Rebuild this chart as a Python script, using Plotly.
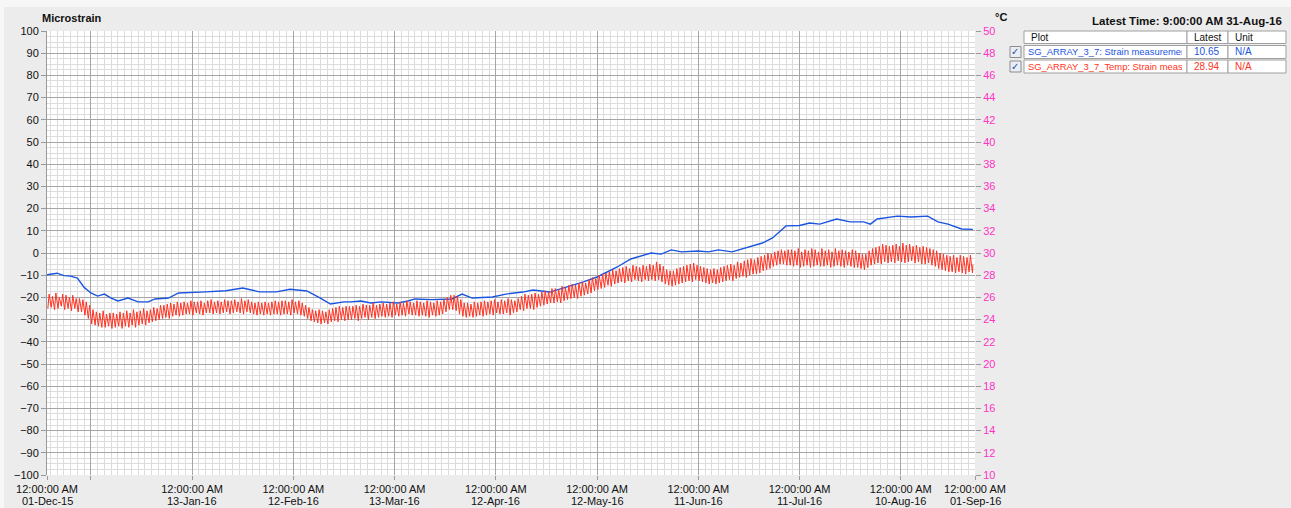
import pandas as pd
import plotly.graph_objects as go

# ---------------- data ----------------
strain_dates = [
    "2015-12-01", "2015-12-04", "2015-12-06", "2015-12-08", "2015-12-10", "2015-12-12",
    "2015-12-14", "2015-12-16", "2015-12-18", "2015-12-20", "2015-12-22", "2015-12-25",
    "2015-12-28", "2015-12-31", "2016-01-02", "2016-01-06", "2016-01-09", "2016-01-13",
    "2016-01-17", "2016-01-23", "2016-01-28", "2016-02-02", "2016-02-07", "2016-02-11",
    "2016-02-16", "2016-02-20", "2016-02-23", "2016-02-27", "2016-02-29", "2016-03-03",
    "2016-03-06", "2016-03-09", "2016-03-14", "2016-03-17", "2016-03-19", "2016-03-24",
    "2016-03-30", "2016-04-02", "2016-04-05", "2016-04-11", "2016-04-15", "2016-04-20",
    "2016-04-23", "2016-04-28", "2016-05-02", "2016-05-05", "2016-05-08", "2016-05-12",
    "2016-05-18", "2016-05-22", "2016-05-28", "2016-05-31", "2016-06-03", "2016-06-06",
    "2016-06-11", "2016-06-14", "2016-06-17", "2016-06-21", "2016-06-26", "2016-06-30",
    "2016-07-03", "2016-07-07", "2016-07-11", "2016-07-14", "2016-07-17", "2016-07-22",
    "2016-07-26", "2016-07-30", "2016-08-01", "2016-08-03", "2016-08-09", "2016-08-13",
    "2016-08-18", "2016-08-21", "2016-08-24", "2016-08-28", "2016-08-31T09:00",
]
strain_values = [
    -9.8, -9.1, -10.2, -10.4, -11.3, -15.5,
    -18.0, -19.4, -18.5, -20.3, -21.6, -20.3,
    -22.0, -22.0, -20.7, -20.3, -18.0, -17.6,
    -17.5, -17.0, -15.8, -17.5, -17.5, -16.3,
    -17.1, -20.3, -23.0, -22.0, -22.0, -21.6,
    -22.5, -22.0, -22.5, -21.6, -20.7, -21.0,
    -20.7, -18.5, -20.3, -19.8, -18.5, -17.6,
    -16.7, -17.6, -15.8, -14.4, -13.0, -10.8,
    -6.3, -2.7, 0.0, -0.5, 1.4, 0.5,
    0.9, 0.5, 1.4, 0.5, 2.7, 4.5,
    6.8, 12.2, 12.4, 13.5, 13.0, 15.3,
    14.0, 14.0, 13.0, 15.3, 16.6, 16.2,
    16.6, 14.0, 13.0, 10.8, 10.65,
]

temp_start = "2015-12-01"
# daily minimum (early morning) and maximum (afternoon) temperature, degC
temp_daily_low = [
    25.0, 25.1, 24.9, 25.0, 25.2, 24.9, 25.0, 24.8, 25.0, 24.7,
    24.7, 24.4, 24.1, 23.6, 23.5, 23.4, 23.3, 23.3, 23.4, 23.2,
    23.3, 23.4, 23.2, 23.4, 23.3, 23.5, 23.3, 23.5, 23.6, 23.5,
    23.7, 23.8, 23.9, 24.0, 24.1, 24.2, 24.1, 24.3, 24.4, 24.3,
    24.4, 24.5, 24.5, 24.4, 24.6, 24.5, 24.4, 24.6, 24.6, 24.5,
    24.6, 24.5, 24.6, 24.7, 24.5, 24.6, 24.7, 24.6, 24.5, 24.7,
    24.6, 24.5, 24.4, 24.5, 24.4, 24.5, 24.4, 24.5, 24.5, 24.4,
    24.5, 24.5, 24.4, 24.6, 24.5, 24.4, 24.3, 24.1, 23.9, 23.8,
    23.7, 23.6, 23.7, 23.6, 23.8, 23.9, 23.8, 24.0, 23.9, 24.0,
    24.0, 24.1, 23.9, 24.1, 24.2, 24.0, 24.2, 24.1, 24.2, 24.3,
    24.2, 24.3, 24.2, 24.4, 24.3, 24.4, 24.3, 24.5, 24.4, 24.4,
    24.3, 24.4, 24.3, 24.2, 24.4, 24.3, 24.4, 24.5, 24.7, 24.9,
    24.9, 24.8, 24.5, 24.3, 24.2, 24.3, 24.2, 24.3, 24.4, 24.3,
    24.4, 24.5, 24.4, 24.6, 24.5, 24.5, 24.6, 24.4, 24.6, 24.7,
    24.9, 24.8, 25.0, 25.0, 24.9, 25.1, 25.2, 25.3, 25.4, 25.5,
    25.5, 25.6, 25.5, 25.7, 25.8, 25.9, 26.0, 25.9, 26.1, 26.2,
    26.3, 26.4, 26.6, 26.7, 26.8, 26.9, 27.1, 27.0, 27.2, 27.3,
    27.4, 27.3, 27.5, 27.4, 27.6, 27.5, 27.4, 27.6, 27.5, 27.6,
    27.5, 27.6, 27.4, 27.2, 27.1, 27.0, 27.1, 27.2, 27.3, 27.4,
    27.5, 27.4, 27.6, 27.5, 27.4, 27.3, 27.2, 27.3, 27.2, 27.3,
    27.4, 27.5, 27.6, 27.5, 27.7, 27.8, 27.9, 27.8, 28.0, 28.1,
    28.1, 28.2, 28.4, 28.5, 28.6, 28.8, 28.9, 29.0, 29.0, 28.9,
    28.9, 28.8, 28.9, 28.7, 28.8, 28.9, 28.7, 28.8, 28.9, 28.8,
    28.8, 28.9, 28.7, 28.8, 28.9, 28.8, 28.7, 28.9, 28.8, 28.7,
    28.7, 28.6, 28.5, 28.7, 28.9, 29.0, 29.1, 29.0, 29.2, 29.1,
    29.2, 29.1, 29.3, 29.2, 29.1, 29.2, 29.3, 29.1, 29.2, 29.0,
    29.0, 29.1, 28.9, 28.8, 28.6, 28.5, 28.4, 28.3, 28.3, 28.2,
    28.3, 28.2, 28.1, 28.3, 28.2,
]
temp_daily_high = [
    26.3, 26.1, 26.4, 26.0, 26.3, 26.2, 26.0, 26.2, 25.9, 25.9,
    25.8, 25.6, 25.3, 24.9, 24.7, 24.6, 24.8, 24.5, 24.6, 24.6,
    24.5, 24.7, 24.6, 24.8, 24.6, 24.9, 24.7, 24.8, 25.0, 24.8,
    24.9, 25.1, 25.0, 25.3, 25.3, 25.4, 25.5, 25.4, 25.6, 25.5,
    25.6, 25.5, 25.7, 25.6, 25.6, 25.7, 25.5, 25.7, 25.8, 25.6,
    25.7, 25.6, 25.8, 25.7, 25.7, 25.8, 25.6, 25.9, 25.7, 25.8,
    25.6, 25.5, 25.6, 25.5, 25.6, 25.5, 25.6, 25.7, 25.6, 25.7,
    25.7, 25.6, 25.8, 25.6, 25.7, 25.5, 25.3, 25.1, 24.9, 24.8,
    24.9, 24.8, 24.7, 24.9, 25.0, 25.1, 25.2, 25.1, 25.2, 25.2,
    25.2, 25.3, 25.2, 25.4, 25.3, 25.3, 25.5, 25.3, 25.4, 25.5,
    25.4, 25.5, 25.6, 25.4, 25.6, 25.5, 25.7, 25.6, 25.5, 25.7,
    25.6, 25.5, 25.7, 25.6, 25.5, 25.7, 25.6, 25.8, 26.0, 26.2,
    26.2, 26.1, 25.8, 25.5, 25.5, 25.4, 25.6, 25.5, 25.6, 25.7,
    25.6, 25.7, 25.8, 25.6, 25.8, 25.7, 25.9, 25.8, 25.7, 25.9,
    26.1, 26.3, 26.2, 26.3, 26.4, 26.3, 26.5, 26.6, 26.5, 26.8,
    26.8, 26.7, 27.0, 26.9, 27.1, 27.2, 27.1, 27.3, 27.4, 27.3,
    27.6, 27.8, 27.7, 28.0, 28.1, 28.2, 28.3, 28.5, 28.4, 28.6,
    28.7, 28.8, 28.6, 28.9, 28.8, 28.7, 28.9, 28.8, 29.0, 28.9,
    29.2, 29.0, 28.8, 28.5, 28.4, 28.4, 28.6, 28.7, 28.8, 28.9,
    29.0, 29.1, 28.9, 28.8, 28.7, 28.6, 28.5, 28.6, 28.5, 28.7,
    28.8, 28.9, 29.0, 28.9, 29.2, 29.1, 29.3, 29.4, 29.5, 29.4,
    29.6, 29.7, 29.8, 30.0, 29.9, 30.1, 30.2, 30.3, 30.2, 30.3,
    30.3, 30.2, 30.4, 30.1, 30.3, 30.2, 30.4, 30.3, 30.1, 30.4,
    30.2, 30.3, 30.1, 30.4, 30.2, 30.3, 30.2, 30.1, 30.3, 30.2,
    30.0, 29.9, 29.9, 30.2, 30.4, 30.5, 30.6, 30.8, 30.7, 30.6,
    30.7, 30.8, 30.6, 30.9, 30.7, 30.8, 30.6, 30.7, 30.5, 30.6,
    30.5, 30.4, 30.3, 30.2, 30.0, 29.9, 29.8, 29.7, 29.8, 29.6,
    29.8, 29.7, 29.6, 29.8,
]
temp_low_hour = 6
temp_high_hour = 15
temp_latest_time = "2016-08-31T09:00"
temp_latest = 28.94
strain_latest = 10.65

x_tick_dates = ["2015-12-01", "2015-12-14", "2016-01-13", "2016-02-12", "2016-03-13",
                "2016-04-12", "2016-05-12", "2016-06-11", "2016-07-11", "2016-08-10",
                "2016-09-01"]
x_tick_time = ["12:00:00 AM", "", "12:00:00 AM", "12:00:00 AM", "12:00:00 AM",
               "12:00:00 AM", "12:00:00 AM", "12:00:00 AM", "12:00:00 AM",
               "12:00:00 AM", "12:00:00 AM"]
x_tick_day = ["01-Dec-15", "", "13-Jan-16", "12-Feb-16", "13-Mar-16", "12-Apr-16",
              "12-May-16", "11-Jun-16", "11-Jul-16", "10-Aug-16", "01-Sep-16"]
left_ticks = list(range(-100, 101, 10))
right_ticks = list(range(10, 51, 2))

series_names = ["SG_ARRAY_3_7: Strain measuremer", "SG_ARRAY_3_7_Temp: Strain meas"]
latest_text = "Latest Time: 9:00:00 AM 31-Aug-16"

# ---------------- build temperature trace ----------------
days = pd.date_range(temp_start, periods=len(temp_daily_low), freq="D")
tx, ty = [], []
for i, d in enumerate(days):
    tx.append(d + pd.Timedelta(hours=temp_low_hour))
    ty.append(temp_daily_low[i])
    if i < len(temp_daily_high):
        tx.append(d + pd.Timedelta(hours=temp_high_hour))
        ty.append(temp_daily_high[i])
tx.append(pd.Timestamp(temp_latest_time))
ty.append(temp_latest)

BLUE = "#1a55e0"
RED = "#ff3322"
PINK = "#ff33c4"
MAJ = "#a6a6a6"
MIN = "#dcdcdc"
FONT = "Liberation Sans, Arial, sans-serif"

fig = go.Figure()
fig.add_trace(go.Scatter(x=tx, y=ty, mode="lines", yaxis="y2",
                         line=dict(color=RED, width=1), showlegend=False))
fig.add_trace(go.Scatter(x=pd.to_datetime(strain_dates, format="ISO8601"), y=strain_values,
                         mode="lines", line=dict(color=BLUE, width=1.4), showlegend=False))

W, H = 1291, 508
# plot-area edges in window pixels
L, R, T, B = 47, 975, 31, 475


def px(x):
    return (x - L) / (R - L)


def py(y):
    return (B - y) / (B - T)


shapes = []
annotations = []

# light window edge on the left / top
shapes.append(dict(type="rect", xref="paper", yref="paper", x0=px(-2), x1=px(4),
                   y0=py(H + 2), y1=py(-2), fillcolor="#f7f7f7", line_width=0))
shapes.append(dict(type="rect", xref="paper", yref="paper", x0=px(-2), x1=px(W + 2),
                   y0=py(7), y1=py(-2), fillcolor="#f7f7f7", line_width=0))

# titles
annotations.append(dict(text="<b>Microstrain</b>", xref="paper", yref="paper", x=px(40), y=py(18),
                        xanchor="left", yanchor="middle", showarrow=False,
                        font=dict(size=11, color="#111", family=FONT)))
annotations.append(dict(text="<b>°C</b>", xref="paper", yref="paper", x=px(993), y=py(17),
                        xanchor="left", yanchor="middle", showarrow=False,
                        font=dict(size=11, color="#111", family=FONT)))
annotations.append(dict(text="<b>" + latest_text + "</b>", xref="paper", yref="paper",
                        x=px(1284), y=py(21), xanchor="right", yanchor="middle", showarrow=False,
                        font=dict(size=11.5, color="#111", family=FONT)))

# second line of the date tick labels
for d, txt in zip(x_tick_dates, x_tick_day):
    if txt:
        annotations.append(dict(text=txt, xref="x", yref="paper", x=d, y=py(501),
                                xanchor="center", yanchor="middle", showarrow=False,
                                borderpad=0,
                                font=dict(size=11, color="#111", family=FONT)))

# table
cols = [(1024, 1187), (1187, 1228), (1228, 1286)]
rows = [(31, 43.5), (45.5, 58.5), (60, 73)]
for (ry0, ry1) in rows:
    for (cx0, cx1) in cols:
        shapes.append(dict(type="rect", xref="paper", yref="paper", x0=px(cx0), x1=px(cx1),
                           y0=py(ry1), y1=py(ry0), fillcolor="white",
                           line=dict(color="#a0a0a0", width=1)))
header = ["Plot", "Latest", "Unit"]
for (cx0, cx1), h in zip(cols, header):
    annotations.append(dict(text=h, xref="paper", yref="paper", x=px(cx0 + 5), y=py(37.5),
                            xanchor="left", yanchor="middle", showarrow=False,
                            font=dict(size=10, color="#111", family=FONT)))
row_colors = [BLUE, RED]
row_latest = [f"{strain_latest:.2f}", f"{temp_latest:.2f}"]
for k, (ry0, ry1) in enumerate(rows[1:]):
    ym = (ry0 + ry1) / 2
    # checkbox
    shapes.append(dict(type="rect", xref="paper", yref="paper", x0=px(1010), x1=px(1021),
                       y0=py(ym + 5.5), y1=py(ym - 5.5), fillcolor="#e9eef6",
                       line=dict(color="#8c8c8c", width=1)))
    annotations.append(dict(text="✓", xref="paper", yref="paper", x=px(1015.5), y=py(ym),
                            xanchor="center", yanchor="middle", showarrow=False,
                            font=dict(size=10, color="#2b4f9e", family="DejaVu Sans")))
    annotations.append(dict(text=series_names[k], xref="paper", yref="paper", x=px(1027),
                            y=py(ym), xanchor="left", yanchor="middle", showarrow=False,
                            width=154, align="left", borderpad=0,
                            font=dict(size=9.4, color=row_colors[k], family=FONT)))
    annotations.append(dict(text=row_latest[k], xref="paper", yref="paper", x=px(1192),
                            y=py(ym), xanchor="left", yanchor="middle", showarrow=False,
                            font=dict(size=10, color=row_colors[k], family=FONT)))
    annotations.append(dict(text="N/A", xref="paper", yref="paper", x=px(1233),
                            y=py(ym), xanchor="left", yanchor="middle", showarrow=False,
                            font=dict(size=10, color=row_colors[k], family=FONT)))

fig.update_layout(
    width=W, height=H,
    margin=dict(l=L, r=W - R, t=T, b=H - B, pad=0),
    paper_bgcolor="#ececec", plot_bgcolor="white",
    font=dict(family=FONT, size=11, color="#111"),
    showlegend=False,
    shapes=shapes, annotations=annotations,
    xaxis=dict(
        type="date", range=["2015-12-01", "2016-09-01"], automargin=False,
        tickmode="array", tickvals=x_tick_dates, ticktext=x_tick_time,
        ticks="outside", ticklen=4, tickcolor="#999", tickfont=dict(size=11, color="#111"),
        showgrid=True, gridcolor=MAJ, gridwidth=1,
        minor=dict(tick0="2015-12-14", dtick=2 * 86400000, showgrid=True,
                   gridcolor=MIN, gridwidth=1, ticks=""),
        showline=False, zeroline=False,
    ),
    yaxis=dict(
        range=[-100, 100], tickmode="array", tickvals=left_ticks, automargin=False,
        ticks="outside", ticklen=5, tickcolor="#999", tickfont=dict(size=11, color="#111"),
        showgrid=True, gridcolor=MAJ, gridwidth=1,
        minor=dict(dtick=2.5, showgrid=True, gridcolor=MIN, gridwidth=1, ticks=""),
        showline=True, linecolor="#999", linewidth=1, zeroline=False,
    ),
    yaxis2=dict(
        range=[10, 50], overlaying="y", side="right", tickmode="array", tickvals=right_ticks,
        automargin=False,
        ticks="outside", ticklen=5, tickcolor="#999", tickfont=dict(size=11, color=PINK),
        showgrid=False, zeroline=False, showline=False,
    ),
)

# remove the page's default body margin so the figure fills the window exactly
fig.write_html("out.html", config={"displayModeBar": False},
               post_script="document.body.style.margin='0';"
                           "document.documentElement.style.overflow='hidden';")
